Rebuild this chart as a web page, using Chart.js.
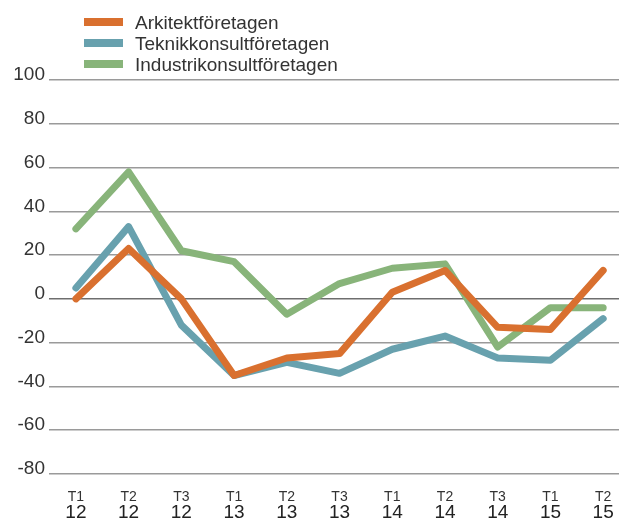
<!DOCTYPE html>
<html>
<head>
<meta charset="utf-8">
<script src="https://cdn.jsdelivr.net/npm/chart.js@4/dist/chart.umd.min.js"></script>
<style>
  html, body { margin: 0; padding: 0; background: #fff; }
  #wrap { position: relative; width: 619px; height: 522px; }
  #legend { position: absolute; left: 84px; top: 12px; font-family: "Helvetica Neue", "Liberation Sans", Arial, sans-serif; font-size: 19px; color: #333; }
  #legend div { height: 21px; line-height: 21px; white-space: nowrap; }
  #legend span.sw { display: inline-block; width: 39px; height: 8px; margin-right: 12px; vertical-align: middle; position: relative; top: -2px; }
</style>
</head>
<body>
<div id="wrap">
  <canvas id="c" width="619" height="522"></canvas>
  <div id="legend"></div>
</div>
<script>
// --- DATOS ---
const kvartal = ['T1', 'T2', 'T3', 'T1', 'T2', 'T3', 'T1', 'T2', 'T3', 'T1', 'T2'];
const ar = ['12', '12', '12', '13', '13', '13', '14', '14', '14', '15', '15'];
const arkitekt = [0, 23, 0, -35, -27, -25, 3, 13, -13, -14, 13];
const teknik = [5, 33, -12, -35, -29, -34, -23, -17, -27, -28, -9];
const industri = [32, 58, 22, 17, -7, 7, 14, 16, -22, -4, -4];
const yTicks = [100, 80, 60, 40, 20, 0, -20, -40, -60, -80];

const serier = [
    { label: 'Arkitektföretagen', data: arkitekt, color: '#d9702f' },
    { label: 'Teknikkonsultföretagen', data: teknik, color: '#68a1ae' },
    { label: 'Industrikonsultföretagen', data: industri, color: '#88b47a' }
];

const fontFam = '"Helvetica Neue", "Liberation Sans", Arial, sans-serif';

// orden de dibujo: verde al fondo, naranja encima
const datasets = serier.map((s, idx) => ({
    label: s.label,
    data: s.data.map((v, i) => ({ x: i, y: v })),
    borderColor: s.color,
    backgroundColor: s.color,
    borderWidth: 7,
    borderCapStyle: 'round',
    borderJoinStyle: 'round',
    pointRadius: 0,
    tension: 0,
    order: idx
}));

const xMin = -0.51, xMax = 10.3;

// sin relleno lateral para que la rejilla llegue al borde
const sinRelleno = (s) => { s.paddingLeft = 0; s.paddingRight = 0; };

new Chart(document.getElementById('c'), {
    type: 'line',
    data: { datasets },
    options: {
        responsive: false,
        animation: false,
        layout: { padding: { top: 80, right: 0, left: 0, bottom: 0 } },
        plugins: { legend: { display: false }, tooltip: { enabled: false } },
        scales: {
            y: {
                min: -80, max: 100,
                afterBuildTicks: (s) => { s.ticks = yTicks.map(v => ({ value: v })); },
                afterFit: (s) => { s.width = 49; },
                border: { display: false },
                grid: {
                    drawTicks: false,
                    color: (ctx) => ctx.tick && ctx.tick.value === 0 ? '#6e6e6e' : '#9a9a9a',
                    lineWidth: 1.5
                },
                ticks: {
                    padding: 4,
                    labelOffset: -5,
                    color: '#333',
                    font: { family: fontFam, size: 19 }
                }
            },
            x: {
                type: 'linear', min: xMin, max: xMax, position: 'bottom',
                afterBuildTicks: (s) => { s.ticks = kvartal.map((k, i) => ({ value: i })); },
                afterFit: (s) => { s.height = 30; sinRelleno(s); },
                border: { display: false },
                grid: { display: false, drawTicks: false },
                ticks: {
                    padding: 15,
                    maxRotation: 0, autoSkip: false,
                    color: '#333',
                    font: { family: fontFam, size: 14 },
                    callback: (v) => kvartal[v]
                }
            },
            x2: {
                type: 'linear', min: xMin, max: xMax, position: 'bottom',
                afterBuildTicks: (s) => { s.ticks = ar.map((a, i) => ({ value: i })); },
                afterFit: (s) => { s.height = 18; sinRelleno(s); },
                border: { display: false },
                grid: { display: false, drawTicks: false },
                ticks: {
                    padding: -3,
                    maxRotation: 0, autoSkip: false,
                    color: '#222',
                    font: { family: fontFam, size: 19 },
                    callback: (v) => ar[v]
                }
            }
        }
    }
});

// --- LEYENDA ---
document.getElementById('legend').innerHTML = serier.map(s =>
    `<div><span class="sw" style="background:${s.color}"></span>${s.label}</div>`
).join('');
</script>
</body>
</html>
